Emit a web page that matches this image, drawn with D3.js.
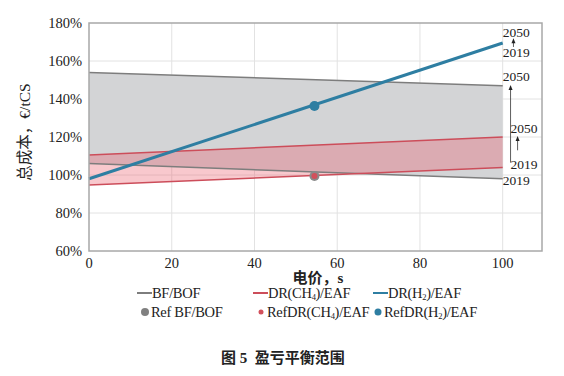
<!DOCTYPE html>
<html>
<head>
<meta charset="utf-8">
<script src="https://cdn.jsdelivr.net/npm/d3@7"></script>
<style>
  body { margin: 0; background: #fff; }
  svg { display: block; }
  text { font-family: "Liberation Serif", "Noto Sans CJK SC", serif; fill: #222; }
</style>
</head>
<body>
<script>
// x: 电价 (0 and 100), y: 总成本 %
const xEnds = [0, 100];
const bfUpper = [154, 147];
const bfLower = [106, 98];
const chUpper = [110.5, 120];
const chLower = [94.7, 104];
const h2Line = [98, 169.5];

const refX = 54.5;
const refBF = 99.5;
const refCH = 99.5;
const refH2 = 136.3;

const xTicks = [0, 20, 40, 60, 80, 100];
const yTicks = [60, 80, 100, 120, 140, 160, 180];

// year labels on the right: [x, y, text]
const yearLabels = [
  [100, 175.3, '2050'], [100, 164.7, '2019'],
  [100, 152, '2050'], [100, 97.4, '2019'],
  [101.9, 124.7, '2050'], [101.9, 105.8, '2019']
];
// arrows [x, yFrom, yTo]
const yearArrows = [
  [102.6, 167.4, 172],
  [101.9, 106.5, 147.4],
  [103.6, 113, 120.5]
];

const W = 564, H = 376;
const svg = d3.select('body').append('svg').attr('width', W).attr('height', H);

const x = d3.scaleLinear().domain([0, 109.5]).range([89, 542]);
const y = d3.scaleLinear().domain([60, 180]).range([251, 23]);

const grey = '#7d7d7d', red = '#cc4d5a', blue = '#2e7ea2';

// grid
svg.append('g').selectAll('line').data(yTicks.slice(1, -1)).join('line')
  .attr('x1', x(0)).attr('x2', x(109.5)).attr('y1', d => y(d)).attr('y2', d => y(d))
  .attr('stroke', '#e2e2e2');
svg.append('g').selectAll('line').data(xTicks.slice(1)).join('line')
  .attr('y1', y(60)).attr('y2', y(180)).attr('x1', d => x(d)).attr('x2', d => x(d))
  .attr('stroke', '#e2e2e2');

const band = (up, lo) => d3.area()
  .x((d, i) => x(xEnds[i])).y0((d, i) => y(lo[i])).y1(d => y(d))(up);

svg.append('path').attr('d', band(bfUpper, bfLower)).attr('fill', '#d3d4d6');
svg.append('path').attr('d', band(chUpper, chLower)).attr('fill', 'rgb(234,93,108)').attr('fill-opacity', 0.34);

const line = vals => d3.line().x((d, i) => x(xEnds[i])).y(d => y(d))(vals);
[[bfUpper, grey, 1.5], [bfLower, grey, 1.5], [chUpper, red, 1.5], [chLower, red, 1.5], [h2Line, blue, 3]]
  .forEach(([v, c, w]) => svg.append('path').attr('d', line(v)).attr('fill', 'none').attr('stroke', c).attr('stroke-width', w));

// reference points
svg.append('circle').attr('cx', x(refX)).attr('cy', y(refBF)).attr('r', 5).attr('fill', '#8a8a8a');
svg.append('circle').attr('cx', x(refX)).attr('cy', y(refCH)).attr('r', 3).attr('fill', '#d2505c');
svg.append('circle').attr('cx', x(refX)).attr('cy', y(refH2)).attr('r', 5).attr('fill', blue);

// frame
svg.append('rect').attr('x', x(0)).attr('y', y(180)).attr('width', x(109.5) - x(0)).attr('height', y(60) - y(180))
  .attr('fill', 'none').attr('stroke', '#a8a8a8').attr('stroke-width', 1.5);

// axes labels
svg.append('g').selectAll('text').data(yTicks).join('text')
  .attr('x', 82).attr('y', d => y(d)).attr('dy', '0.35em').attr('text-anchor', 'end')
  .attr('font-size', 14.5).text(d => d + '%');
svg.append('g').selectAll('text').data(xTicks).join('text')
  .attr('x', d => x(d)).attr('y', 268).attr('text-anchor', 'middle')
  .attr('font-size', 14.5).text(d => d);

svg.append('text').attr('x', 318).attr('y', 283).attr('text-anchor', 'middle')
  .attr('font-size', 15).attr('font-weight', 'bold').text('电价，s');
svg.append('text').attr('transform', 'translate(30,132) rotate(-90)').attr('text-anchor', 'middle')
  .attr('font-size', 15.5).text('总成本，€/tCS');

// year annotations
svg.append('g').selectAll('text').data(yearLabels).join('text')
  .attr('x', d => x(d[0])).attr('y', d => y(d[1])).attr('dy', '0.35em')
  .attr('font-size', 13.5).text(d => d[2]);
const arr = svg.append('g');
yearArrows.forEach(([ax, y0, y1]) => {
  arr.append('line').attr('x1', x(ax)).attr('x2', x(ax)).attr('y1', y(y0)).attr('y2', y(y1) + 3)
    .attr('stroke', '#333').attr('stroke-width', 0.8);
  arr.append('path').attr('d', `M${x(ax)},${y(y1)} l-2,5 l4,0 z`).attr('fill', '#222');
});

// legend
const legRow1 = [
  { x: 137, c: grey, t: ['BF/BOF'] },
  { x: 253, c: red, t: ['DR(CH', '4', ')/EAF'] },
  { x: 373, c: blue, t: ['DR(H', '2', ')/EAF'] }
];
const legRow2 = [
  { x: 145, c: '#808080', r: 4, t: ['Ref BF/BOF'] },
  { x: 261, c: '#d2505c', r: 2.5, t: ['RefDR(CH', '4', ')/EAF'] },
  { x: 378, c: blue, r: 3.5, t: ['RefDR(H', '2', ')/EAF'] }
];
const FS = 14.5;
const addText = (g, tx, ty, parts) => {
  const t = g.append('text').attr('x', tx).attr('y', ty).attr('font-size', FS).attr('letter-spacing', -0.3);
  parts.forEach((p, i) => {
    if (i === 1) t.append('tspan').attr('font-size', 8.5).attr('dy', 2).text(p);
    else if (i === 2) t.append('tspan').attr('font-size', FS).attr('dy', -2).text(p);
    else t.append('tspan').text(p);
  });
};
const leg = svg.append('g');
legRow1.forEach(d => {
  leg.append('line').attr('x1', d.x).attr('x2', d.x + 15).attr('y1', 293).attr('y2', 293)
    .attr('stroke', d.c).attr('stroke-width', 2);
  addText(leg, d.x + 15, 298, d.t);
});
legRow2.forEach(d => {
  leg.append('circle').attr('cx', d.x).attr('cy', 312).attr('r', d.r).attr('fill', d.c);
  addText(leg, d.x + 6, 317, d.t);
});

svg.append('text').attr('x', 283).attr('y', 363).attr('text-anchor', 'middle')
  .attr('font-family', '"Noto Sans CJK SC", sans-serif').attr('font-size', 15).attr('font-weight', 'bold')
  .attr('xml:space', 'preserve').text('图 5  盈亏平衡范围');
</script>
</body>
</html>
